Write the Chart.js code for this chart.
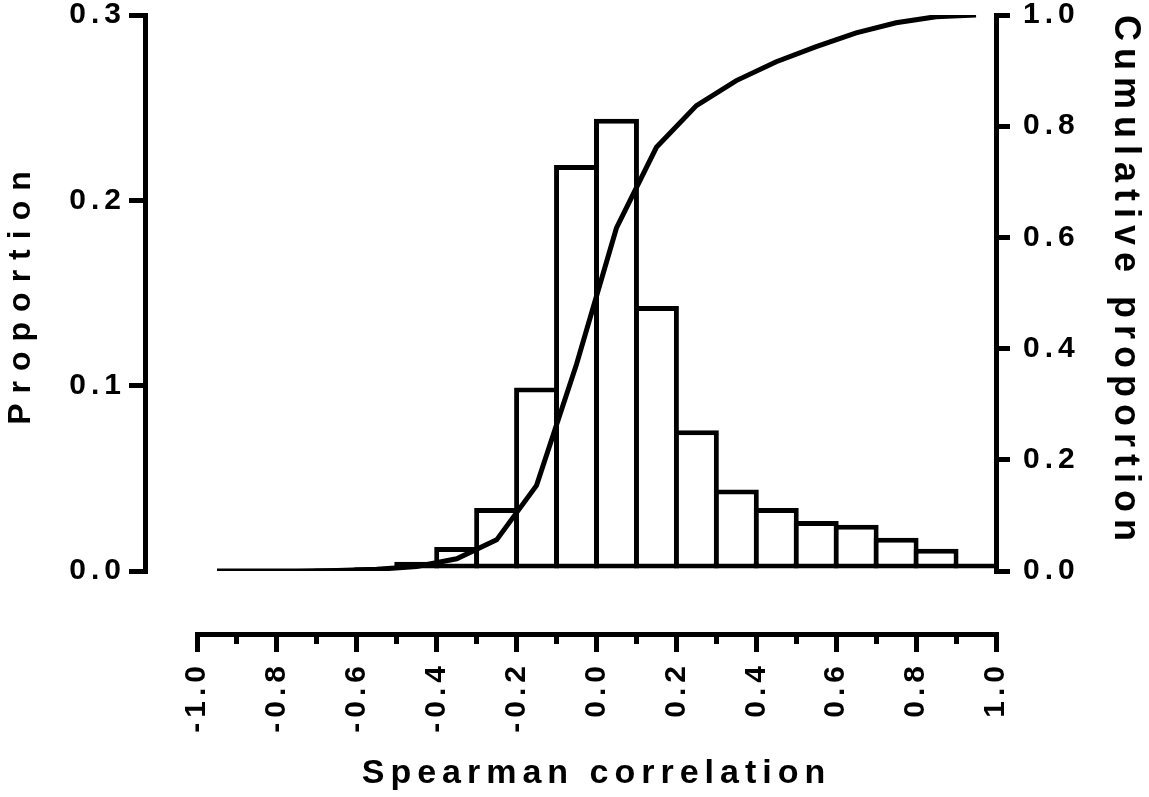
<!DOCTYPE html>
<html>
<head>
<meta charset="utf-8">
<title>Spearman correlation histogram</title>
<script src="https://cdn.jsdelivr.net/npm/chart.js@4.4.1/dist/chart.umd.min.js"></script>
<style>
  html, body { margin: 0; padding: 0; background: #fff; }
  canvas { display: block; }
</style>
</head>
<body>
<canvas id="hist" width="1149" height="797"></canvas>
<script>
// bins are 0.1 wide, x = bin centre
const binCenters = [-0.95, -0.85, -0.75, -0.65, -0.55, -0.45, -0.35, -0.25, -0.15, -0.05,
                    0.05, 0.15, 0.25, 0.35, 0.45, 0.55, 0.65, 0.75, 0.85, 0.95];
const proportion = [0, 0, 0, 0.001, 0.002, 0.005, 0.013, 0.034, 0.099, 0.219,
                    0.244, 0.143, 0.076, 0.044, 0.034, 0.027, 0.025, 0.018, 0.012, 0.004];
const cumulative = [0, 0, 0, 0.001, 0.003, 0.008, 0.022, 0.056, 0.154, 0.372,
                    0.617, 0.762, 0.837, 0.882, 0.916, 0.943, 0.968, 0.986, 0.997, 1.0];

const xTicks = [-1.0, -0.9, -0.8, -0.7, -0.6, -0.5, -0.4, -0.3, -0.2, -0.1, 0,
                0.1, 0.2, 0.3, 0.4, 0.5, 0.6, 0.7, 0.8, 0.9, 1.0];
const xTickLabels = ['-1.0', '', '-0.8', '', '-0.6', '', '-0.4', '', '-0.2', '', '0.0',
                     '', '0.2', '', '0.4', '', '0.6', '', '0.8', '', '1.0'];
const yTicks = [0, 0.1, 0.2, 0.3];
const y1Ticks = [0, 0.2, 0.4, 0.6, 0.8, 1.0];

Chart.defaults.font.family = '"Liberation Sans", Arial, Helvetica, sans-serif';
Chart.defaults.font.weight = 'bold';
Chart.defaults.color = '#000';

// extra space between letters: [tick labels, title]
const letterGap = { x: [5, 6], y: [5, 10], y1: [5, 7] };

const spacedText = {
  id: 'spacedText',
  beforeDraw(chart) {
    for (const scale of Object.values(chart.scales)) {
      const gap = letterGap[scale.id];
      if (!gap || scale.$spaced) continue;
      scale.$spaced = true;
      const drawLabels = scale.drawLabels;
      const drawTitle = scale.drawTitle;
      scale.drawLabels = function (area) {
        this.ctx.letterSpacing = gap[0] + 'px';
        drawLabels.call(this, area);
        this.ctx.letterSpacing = '0px';
      };
      scale.drawTitle = function () {
        this.ctx.letterSpacing = gap[1] + 'px';
        drawTitle.call(this);
        this.ctx.letterSpacing = '0px';
      };
    }
  }
};

const setTicks = values => scale => { scale.ticks = values.map(v => ({ value: v })); };

// fixed box size, and no extra room asked for by overhanging labels
const fixSize = (w, h) => s => {
  if (w !== null) s.width = w;
  if (h !== null) s.height = h;
  s.paddingTop = s.paddingBottom = s.paddingLeft = s.paddingRight = 0;
};

new Chart(document.getElementById('hist'), {
  type: 'bar',
  data: {
    datasets: [
      {
        type: 'line',
        label: 'Cumulative proportion',
        data: binCenters.map((x, i) => ({ x, y: cumulative[i] })),
        xAxisID: 'x',
        yAxisID: 'y1',
        borderColor: '#000',
        borderWidth: 5,
        pointRadius: 0,
        tension: 0,
        fill: false,
        order: 0
      },
      {
        label: 'Proportion',
        data: binCenters.map((x, i) => ({ x, y: proportion[i] })),
        xAxisID: 'x',
        yAxisID: 'y',
        backgroundColor: '#fff',
        borderColor: '#000',
        borderWidth: 5,
        borderSkipped: false,
        barPercentage: 1.125,
        categoryPercentage: 1,
        order: 1
      }
    ]
  },
  options: {
    responsive: false,
    animation: false,
    devicePixelRatio: 1,
    layout: { padding: { top: 15, right: 0, bottom: 0, left: 0 } },
    plugins: { legend: { display: false }, tooltip: { enabled: false } },
    scales: {
      x: {
        type: 'linear',
        position: 'bottom',
        weight: 10,
        min: -1,
        max: 1,
        offset: false,
        afterBuildTicks: setTicks(xTicks),
        afterFit: fixSize(null, 163),
        border: { display: true, color: '#000', width: 5 },
        grid: {
          display: true,
          offset: false,
          drawOnChartArea: false,
          color: '#000',
          lineWidth: 5,
          tickLength: 18,
          // short minor ticks between the labelled ones
          tickBorderDash: c => (c.index % 2 ? [7, 100] : [])
        },
        ticks: {
          autoSkip: false,
          minRotation: 90,
          maxRotation: 90,
          padding: 9,
          font: { size: 30, lineHeight: 1 },
          callback: (v, i) => xTickLabels[i]
        },
        title: {
          display: true,
          text: 'Spearman correlation',
          font: { size: 34, lineHeight: 1.2 },
          padding: { top: 0, bottom: 3 }
        }
      },
      // gap between the plot and the detached x axis
      xGap: {
        type: 'linear',
        position: 'bottom',
        weight: 0,
        offset: false,
        display: true,
        ticks: { display: false },
        grid: { display: false },
        border: { display: false },
        afterFit: fixSize(null, 63)
      },
      y: {
        type: 'linear',
        position: 'left',
        weight: 10,
        min: 0,
        max: 0.3,
        afterBuildTicks: setTicks(yTicks),
        afterFit: fixSize(145, null),
        border: { display: true, color: '#000', width: 5 },
        grid: { display: true, drawOnChartArea: false, color: '#000', lineWidth: 5, tickLength: 16 },
        ticks: { padding: 3, font: { size: 30, lineHeight: 1 }, callback: v => v.toFixed(1) },
        title: {
          display: true,
          text: 'Proportion',
          font: { size: 32, lineHeight: 1.2 },
          padding: { top: 2, bottom: 0 }
        }
      },
      yGap: {
        type: 'linear',
        position: 'left',
        weight: 0,
        display: true,
        ticks: { display: false },
        grid: { display: false },
        border: { display: false },
        afterFit: fixSize(52, null)
      },
      y1: {
        type: 'linear',
        position: 'right',
        weight: 10,
        min: 0,
        max: 1,
        afterBuildTicks: setTicks(y1Ticks),
        afterFit: fixSize(153, null),
        border: { display: true, color: '#000', width: 5 },
        grid: { display: true, drawOnChartArea: false, color: '#000', lineWidth: 5, tickLength: 14 },
        ticks: { padding: 13, font: { size: 30, lineHeight: 1 }, callback: v => v.toFixed(1) },
        title: {
          display: true,
          text: 'Cumulative proportion',
          align: 'end',
          font: { size: 36, lineHeight: 1.2 },
          padding: { top: 2, bottom: 0 }
        }
      }
    }
  },
  plugins: [spacedText]
});
</script>
</body>
</html>
